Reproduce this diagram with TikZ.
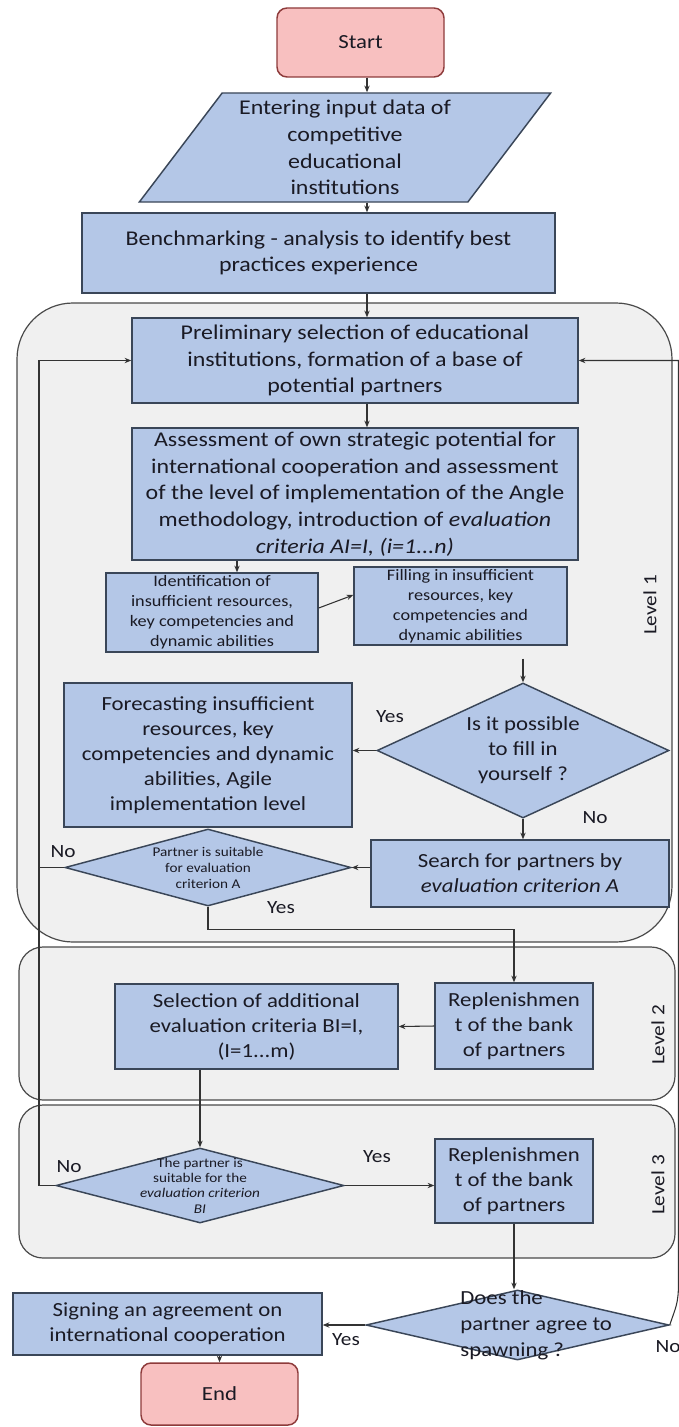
\documentclass[tikz,border=0pt]{standalone}
\usepackage{fontspec}
\setmainfont{Carlito}[FakeStretch=1.14]
\usetikzlibrary{shapes.geometric,arrows.meta,calc}

\definecolor{boxfill}{HTML}{B4C7E7}
\definecolor{boxline}{HTML}{3A4658}
\definecolor{termfill}{HTML}{F8C0C0}
\definecolor{termline}{HTML}{8E3B3B}
\definecolor{levelfill}{HTML}{F0F0F0}
\definecolor{levelline}{HTML}{4A4A4A}
\definecolor{ink}{HTML}{1A1A24}
\definecolor{wirecol}{HTML}{333333}

\begin{document}
\begin{tikzpicture}[x=0.75pt,y=-0.75pt,
  sz/.style 2 args={minimum width=#1*0.75pt,minimum height=#2*0.75pt},
  box/.style={draw=boxline,fill=boxfill,line width=1.1pt,inner sep=0pt,align=center,text=ink,font=\fontsize{15}{18.75}\selectfont},
  big/.style={font=\fontsize{15.75}{20}\selectfont},
  small/.style={font=\fontsize{12}{15}\selectfont},
  term/.style={draw=termline,fill=termfill,line width=1.1pt,rounded corners=7.5pt,inner sep=0pt,text=ink,font=\fontsize{15}{18.75}\selectfont},
  dec/.style={diamond,draw=boxline,fill=boxfill,line width=1.1pt,inner sep=0pt},
  dlab/.style={align=center,text=ink,inner sep=0pt,font=\fontsize{15}{18.75}\selectfont},
  dsmall/.style={align=center,text=ink,inner sep=0pt,font=\fontsize{10}{12}\selectfont},
  level/.style={draw=levelline,fill=levelfill,line width=0.9pt},
  lvl/.style={rotate=90,text=ink,inner sep=0pt,font=\fontsize{14}{16}\selectfont},
  ans/.style={text=ink,inner sep=0pt,font=\fontsize{14}{16}\selectfont},
  arr/.style={draw=wirecol,line width=0.8pt,-{Stealth[length=5pt,width=4pt]}},
  wire/.style={draw=wirecol,line width=0.8pt},
]
% page
\fill[white] (0,0) rectangle (678,1427);
\useasboundingbox (0,0) rectangle (678,1427);

% level frames
\draw[level,rounded corners=42pt] (17,303) rectangle (672,942);
\draw[level,rounded corners=18pt] (19,947) rectangle (675,1100);
\draw[level,rounded corners=18pt] (19,1105) rectangle (675,1258);

% guide coordinates for the vertical runs
\coordinate (spine) at (367,0);
\coordinate (loopL) at (39,0);
\coordinate (loopR) at (678.5,0);
\coordinate (bendR) at (678.5,1282);

% process steps
\node[term,sz={167}{69}] (start) at (360.5,42.5) {Start};
\node[box,big,trapezium,trapezium left angle=53,trapezium right angle=127,
      trapezium stretches=true,sz={412}{109}] (input) at (345,147.5)
  {Entering input data of\\competitive\\educational\\institutions};
\node[box,big,sz={473}{80}] (bench) at (318.5,253)
  {Benchmarking - analysis to identify best\\practices experience};
\node[box,big,sz={446}{85}] (prelim) at (355,360.5)
  {Preliminary selection of educational\\institutions, formation of a base of\\potential partners};
\node[box,big,sz={446}{132}] (assess) at (355,494)
  {Assessment of own strategic potential for\\international cooperation and assessment\\of the level of implementation of the Angle\\methodology, introduction of \textit{evaluation}\\\textit{criteria AI=I, (i=1...n)}};
\node[box,small,sz={212}{79}] (ident) at (212,612.5)
  {Identification of\\insufficient resources,\\key competencies and\\dynamic abilities};
\node[box,small,sz={213}{78}] (fill) at (460.5,606)
  {Filling in insufficient\\resources, key\\competencies and\\dynamic abilities};
\node[dec,sz={292}{135},label={[dlab]center:{Is it possible\\to fill in\\yourself ?}}] (dia1) at (523,750.5) {};
\node[box,sz={288}{144}] (forecast) at (208,755)
  {Forecasting insufficient\\resources, key\\competencies and dynamic\\abilities, Agile\\implementation level};
\node[box,sz={298}{67}] (search) at (520,873.5)
  {Search for partners by\\\textit{evaluation criterion A}};
\node[dec,sz={286}{77},label={[dsmall]center:{Partner is suitable\\for evaluation\\criterion A}}] (dia2) at (208,867.5) {};
\node[box,sz={283}{85}] (select) at (256.5,1026.5)
  {Selection of additional\\evaluation criteria BI=I,\\(I=1...m)};
\node[box,sz={158}{86}] (repl1) at (514,1026)
  {Replenishmen\\t of the bank\\of partners};
\node[dec,sz={288}{75},label={[dsmall,font=\fontsize{10}{11.5}\selectfont]center:{The partner is\\suitable for the\\\textit{evaluation criterion}\\\textit{BI}}}] (dia3) at (200,1185.5) {};
\node[box,sz={158}{84}] (repl2) at (514,1181)
  {Replenishmen\\t of the bank\\of partners};
\node[dec,sz={303}{70},label={[dlab,align=left,xshift=14pt,font=\fontsize{15}{19.5}\selectfont]center:{Does the\\partner agree to\\spawning ?}}] (dia4) at (517.5,1325) {};
\node[box,sz={309}{62}] (sign) at (167.5,1324)
  {Signing an agreement on\\international cooperation};
\node[term,sz={157}{62}] (end) at (219.5,1394) {End};

% level captions
\node[lvl] (lv1) at (650,605) {Level 1};
\node[lvl] (lv2) at (658,1035) {Level 2};
\node[lvl] (lv3) at (658,1185) {Level 3};

% branch answers
\node[ans] (y1) at (390,717) {Yes};
\node[ans] (n1) at (595,818) {No};
\node[ans] (n2) at (63,852) {No};
\node[ans] (y2) at (281,908) {Yes};
\node[ans] (y3) at (377,1157) {Yes};
\node[ans] (n3) at (69,1167) {No};
\node[ans] (y4) at (346,1340) {Yes};
\node[ans] (n4) at (668,1347) {No};

% connectors
\coordinate (identin) at ($(ident.north)+(25,0)$);
\draw[arr] (spine |- start.south) -- (spine |- input.north);
\draw[arr] (spine |- input.south) -- (spine |- bench.north);
\draw[arr] (spine |- bench.south) -- (spine |- prelim.north);
\draw[arr] (spine |- prelim.south) -- (spine |- assess.north);
\draw[arr] (identin |- assess.south) -- (identin);
\draw[arr] ($(ident.east)+(0,-4.5)$) -- ($(fill.west)+(0,-11)$);
\draw[arr] ($(dia1.north |- fill.south)+(0,13)$) -- (dia1.north);
\draw[arr] (dia1.west) -- (dia1.west -| forecast.east);
\draw[arr] (dia1.south) -- (dia1.south |- search.north);
\draw[arr] (search.west |- dia2.east) -- (dia2.east);
\draw[wire] (dia2.west) -- (loopL |- dia2.west);
\draw[arr] (dia3.west) -- (loopL |- dia3.west) -- (loopL |- prelim.west) -- (prelim.west);
\draw[arr] (dia2.south) -- ++(0,23) -| (repl1.north);
\draw[arr] (repl1.west) -- (select.east);
\draw[arr] (dia3.north |- select.south) -- (dia3.north);
\draw[arr] (dia3.east) -- (dia3.east -| repl2.west);
\draw[arr] (repl2.south) -- (repl2.south |- dia4.north);
\draw[arr] (dia4.west) -- (dia4.west -| sign.east);
\draw[arr] (end.north |- sign.south) -- (end.north);
\draw[arr] (dia4.east) .. controls +(6,-18) and +(0,22) .. (bendR) -- (loopR |- prelim.east) -- (prelim.east);
\end{tikzpicture}
\end{document}
